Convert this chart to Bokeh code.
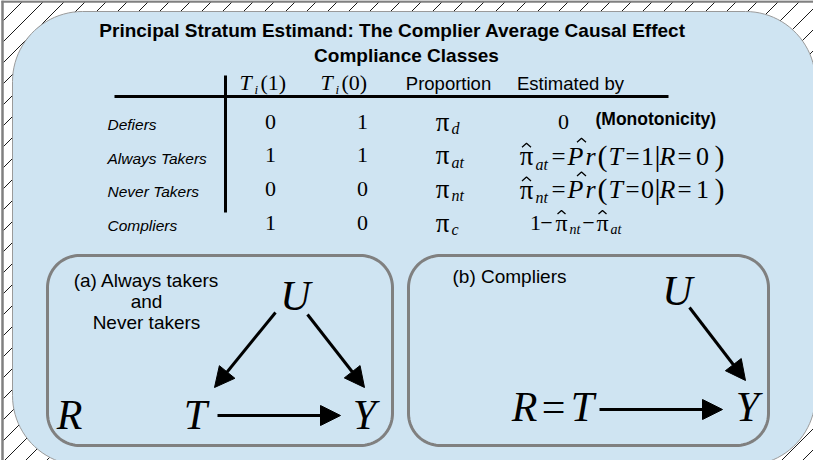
import numpy as np
from bokeh.plotting import figure
from bokeh.models import Range1d, Arrow, NormalHead
from bokeh.core.properties import value
from bokeh.embed import file_html
from bokeh.resources import INLINE

# ---------------- data ----------------
title_lines = ["Principal Stratum Estimand: The Complier Average Causal Effect",
               "Compliance Classes"]
header = ["Proportion", "Estimated by"]
classes = ["Defiers", "Always Takers", "Never Takers", "Compliers"]
t_of_1 = [0, 1, 0, 1]
t_of_0 = [1, 1, 0, 0]
prop_sub = ["d", "at", "nt", "c"]
est_T = [1, 0]          # P(T = t | R = r) for always / never takers
est_R = [0, 1]
panel_a = ["(a) Always takers", "and", "Never takers"]
panel_b = "(b) Compliers"

SANS = "Liberation Sans"
SERIF = "Liberation Serif"
BLUE = "#cfe4f2"
GRAY = "#808080"

W, H = 813, 460
p = figure(width=W, height=H, output_backend="svg", toolbar_location=None,
           x_range=Range1d(8, 8 + W), y_range=Range1d(8 + H, 8),
           min_border=0, outline_line_color=None, background_fill_color="white")
p.axis.visible = False
p.grid.visible = False


def txt(x, y, s, size, font=SANS, style="normal", align="left", baseline="middle"):
    p.text(x=[x], y=[y], text=[s], text_font=value(font), text_font_size=f"{size}px",
           text_font_style=style, text_align=align, text_baseline=baseline,
           text_color="black")


def hat(cx, cy, w=4.5, h=4):
    p.line([cx - w, cx, cx + w], [cy + h, cy, cy + h], line_color="black", line_width=1.3)


def rrect(x0, y0, x1, y1, r, n=24):
    xs, ys = [], []
    for cx, cy, a0 in [(x0 + r, y0 + r, np.pi), (x1 - r, y0 + r, 1.5 * np.pi),
                       (x1 - r, y1 - r, 0.0), (x0 + r, y1 - r, 0.5 * np.pi)]:
        t = np.linspace(a0, a0 + 0.5 * np.pi, n)
        xs.extend(cx + r * np.cos(t))
        ys.extend(cy + r * np.sin(t))
    return xs, ys


# ---------------- hatched frame ----------------
fx0, fy0, fx1, fy1 = 11, 9, 8 + W, 8 + H
cs = np.arange(39, fx1 + fy1, 21)
x0s, y0s, x1s, y1s = [], [], [], []
for c in cs:
    xa = max(fx0, c - fy1)
    xb = min(fx1, c - fy0)
    if xb > xa:
        x0s.append(xa); y0s.append(c - xa); x1s.append(xb); y1s.append(c - xb)
p.segment(x0s, y0s, x1s, y1s, line_color="black", line_width=0.9)
p.segment([10, 9], [8, 9], [10, fx1], [fy1, 9], line_color=GRAY, line_width=2.5)

# big rounded panel
bx, by = rrect(20, 19, 823, 473, 70)
p.patch(bx, by, fill_color=BLUE, line_color="#9a9a9a", line_width=1)

# ---------------- title ----------------
txt(400, 38, title_lines[0], 19, style="bold", align="center")
txt(414, 63, title_lines[1], 19, style="bold", align="center")

# ---------------- table ----------------
HY = 90
for xl, d in [(247, "1"), (328, "0")]:
    txt(xl, HY, "T", 22, SERIF, "italic")
    txt(xl + 15, HY + 7, "i", 13, SERIF, "italic")
    txt(xl + 21, HY, f"({d})", 22, SERIF)
txt(456, HY + 1, header[0], 18.5, align="center")
txt(578, HY + 1, header[1], 18.5, align="center")

p.segment([122, 233], [104, 83], [676, 233], [104, 220], line_color="black", line_width=3)

row_y = [129 + 33.7 * i for i in range(len(classes))]
for i, name in enumerate(classes):
    y = row_y[i]
    txt(115, y + 3, name, 15.5, style="italic")
    txt(278, y, str(t_of_1[i]), 22, SERIF, align="center")
    txt(370, y, str(t_of_0[i]), 22, SERIF, align="center")
    txt(450, y, "π", 27, SERIF, align="center")
    txt(459, y + 7, prop_sub[i], 16, SERIF, "italic")

# estimates
y = row_y[0]
txt(571, y, "0", 22, SERIF, align="center")
txt(603, y - 3, "(Monotonicity)", 17.5, style="bold")

for k in range(2):
    y = row_y[k + 1] + 1
    s = prop_sub[k + 1]
    txt(534, y, "π", 27, SERIF, align="center")
    hat(534, y - 13)
    txt(543, y + 8, s, 16, SERIF, "italic")
    txt(566, y, "=", 25, SERIF, align="center")
    txt(575, y, "P", 26, SERIF, "italic")
    hat(589, y - 18)
    txt(593, y, "r", 26, SERIF, "italic")
    txt(605, y - 1, "(", 30, SERIF)
    txt(616, y, "T", 26, SERIF, "italic")
    txt(640, y, "=", 25, SERIF, align="center")
    txt(655, y, str(est_T[k]), 26, SERIF, align="center")
    txt(665, y - 1, "|", 30, SERIF, align="center")
    txt(667, y, "R", 26, SERIF, "italic")
    txt(692, y, "=", 25, SERIF, align="center")
    txt(710, y, str(est_R[k]), 26, SERIF, align="center")
    txt(722, y - 1, ")", 30, SERIF)

y = row_y[3]
txt(543, y, "1", 22, SERIF, align="center")
txt(554, y, "−", 22, SERIF, align="center")
txt(569, y, "π", 24, SERIF, align="center")
hat(569, y - 12, 4, 3.5)
txt(577, y + 7, "nt", 14, SERIF, "italic")
txt(596, y, "−", 22, SERIF, align="center")
txt(610, y, "π", 24, SERIF, align="center")
hat(610, y - 12, 4, 3.5)
txt(618, y + 7, "at", 14, SERIF, "italic")

# ---------------- DAG panels ----------------
for (x0, x1) in [(55, 400), (416, 776)]:
    xs, ys = rrect(x0, 263, x1, 453, 32)
    p.patch(xs, ys, fill_color=None, line_color=GRAY, line_width=3)

for j, line in enumerate(panel_a):
    txt(154, 288 + 21 * j, line, 19, align="center")
txt(460, 284, panel_b, 19)

LET = 42
txt(303, 303, "U", LET, SERIF, "italic", align="center")
txt(77, 422, "R", LET, SERIF, "italic", align="center")
txt(203, 422, "T", LET, SERIF, "italic", align="center")
txt(372, 422, "Y", LET, SERIF, "italic", align="center")

txt(685, 298, "U", LET, SERIF, "italic", align="center")
txt(755, 414, "Y", LET, SERIF, "italic", align="center")
txt(532, 414, "R", LET, SERIF, "italic", align="center")
txt(561, 414, "=", LET, SERIF, align="center")
txt(590, 414, "T", LET, SERIF, "italic", align="center")

arrows = [((283, 320), (222, 395)), ((315, 322), (372, 395)), ((225, 423), (348, 423)),
          ((697, 315), (753, 388)), ((607, 417), (730, 417))]
for (xs_, ys_), (xe, ye) in arrows:
    p.add_layout(Arrow(end=NormalHead(size=20, fill_color="black", line_color="black"),
                       x_start=xs_, y_start=ys_, x_end=xe, y_end=ye,
                       line_color="black", line_width=3))

open("out.html", "w").write(file_html(p, INLINE))
